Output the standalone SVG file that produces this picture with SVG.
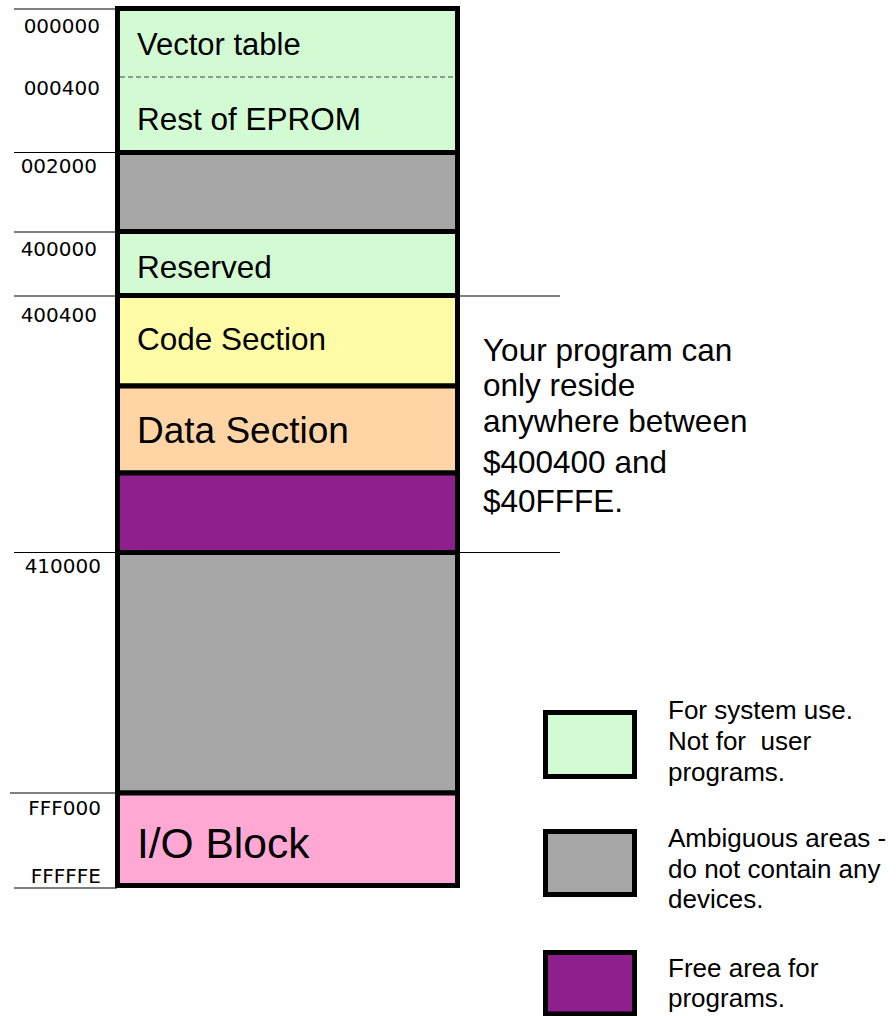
<svg xmlns="http://www.w3.org/2000/svg" width="896" height="1016" viewBox="0 0 896 1016">
<style>
.sec{stroke:#000;stroke-width:5}
.green{fill:#d3fbd3}
.gray{fill:#a6a6a6}
.yellow{fill:#fffba6}
.peach{fill:#ffd5a6}
.purple{fill:#8f1f8d}
.pink{fill:#ffa8d3}
.lbl{font-family:"Liberation Sans",Arial,sans-serif;fill:#000;white-space:pre}
.addr{font-family:"DejaVu Sans",Verdana,sans-serif;font-size:20px;fill:#000;text-anchor:end}
.tick{stroke:#000;stroke-width:1}
</style>
<rect width="896" height="1016" fill="#fff"/>
<g id="ticks">
<line class="tick" x1="14" y1="9" x2="117" y2="9"/>
<line class="tick" x1="14" y1="152.5" x2="117" y2="152.5"/>
<line class="tick" x1="14" y1="232" x2="117" y2="232"/>
<line class="tick" x1="14" y1="296" x2="117" y2="296"/>
<line class="tick" x1="14" y1="552.5" x2="117" y2="552.5"/>
<line class="tick" x1="10" y1="793" x2="117" y2="793"/>
<line class="tick" x1="14" y1="888" x2="117" y2="888"/>
<line class="tick" x1="458" y1="296" x2="560" y2="296"/>
<line class="tick" x1="458" y1="552.5" x2="560" y2="552.5"/>
</g>
<g id="addresses">
<text class="addr" x="100" y="33">000000</text>
<text class="addr" x="100" y="95">000400</text>
<text class="addr" x="97" y="173">002000</text>
<text class="addr" x="97" y="256">400000</text>
<text class="addr" x="97" y="322">400400</text>
<text class="addr" x="101" y="573">410000</text>
<text class="addr" x="101" y="815">FFF000</text>
<text class="addr" x="101" y="883">FFFFFE</text>
</g>
<g id="eprom">
<rect class="sec green" x="117.5" y="8.5" width="340" height="144"/>
<line x1="120" y1="77" x2="455" y2="77" stroke="#444" stroke-width="1" stroke-dasharray="5 3"/>
<text class="lbl" x="137" y="55" font-size="31">Vector table</text>
<text class="lbl" x="137" y="130" font-size="31.5">Rest of EPROM</text>
</g>
<g id="ambiguous1">
<rect class="sec gray" x="117.5" y="152.5" width="340" height="79"/>
</g>
<g id="reserved">
<rect class="sec green" x="117.5" y="231.5" width="340" height="64"/>
<text class="lbl" x="137" y="278" font-size="31.5">Reserved</text>
</g>
<g id="code">
<rect class="sec yellow" x="117.5" y="295.5" width="340" height="90.5"/>
<text class="lbl" x="137" y="350" font-size="31.5">Code Section</text>
</g>
<g id="data">
<rect class="sec peach" x="117.5" y="386" width="340" height="87"/>
<text class="lbl" x="137" y="443" font-size="37">Data Section</text>
</g>
<g id="free">
<rect class="sec purple" x="117.5" y="473" width="340" height="79.5"/>
</g>
<g id="ambiguous2">
<rect class="sec gray" x="117.5" y="552.5" width="340" height="240.5"/>
</g>
<g id="io">
<rect class="sec pink" x="117.5" y="793" width="340" height="92.5"/>
<text class="lbl" x="137" y="858" font-size="42.5">I/O Block</text>
</g>
<g id="note">
<text class="lbl" font-size="31.5"><tspan x="483" y="361">Your program can</tspan><tspan x="483" y="396">only reside</tspan><tspan x="483" y="432">anywhere between</tspan><tspan x="483" y="473">$400400 and</tspan><tspan x="483" y="512">$40FFFE.</tspan></text>
</g>
<g id="legend-system">
<rect class="sec green" x="545.5" y="712.5" width="89" height="64"/>
<text class="lbl" font-size="26"><tspan x="668" y="719">For system use.</tspan><tspan x="668" y="750">Not for  user</tspan><tspan x="668" y="781">programs.</tspan></text>
</g>
<g id="legend-ambiguous">
<rect class="sec gray" x="545.5" y="831.5" width="89" height="63"/>
<text class="lbl" font-size="26"><tspan x="668" y="847">Ambiguous areas -</tspan><tspan x="668" y="878">do not contain any</tspan><tspan x="668" y="908">devices.</tspan></text>
</g>
<g id="legend-free">
<rect class="sec purple" x="545.5" y="952.5" width="89" height="61.5"/>
<text class="lbl" font-size="26"><tspan x="668" y="977">Free area for</tspan><tspan x="668" y="1007">programs.</tspan></text>
</g>
</svg>
